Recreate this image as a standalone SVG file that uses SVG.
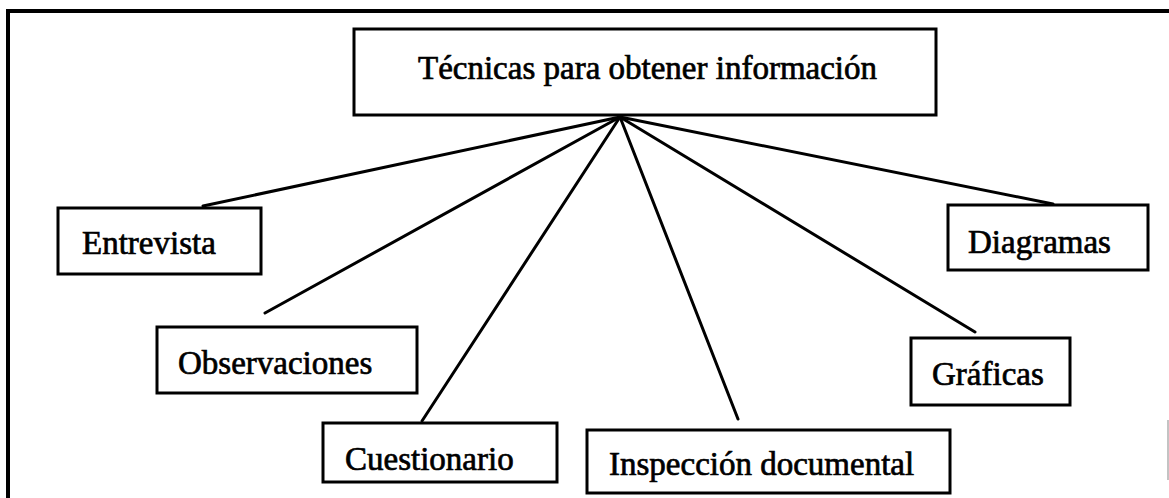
<svg xmlns="http://www.w3.org/2000/svg" width="1169" height="498" viewBox="0 0 1169 498">
<style>
.box{fill:#fff;stroke:#000;stroke-width:3}
.lbl{font-family:"Liberation Serif","DejaVu Serif","Times New Roman",Times,serif;font-size:33px;fill:#000;stroke:#000;stroke-width:0.7}
.con{stroke:#000;stroke-width:3;fill:none;stroke-linecap:round}
</style>
<rect width="1169" height="498" fill="#fff"/>
<g id="frame">
<rect x="6" y="9" width="1163" height="4" fill="#000"/>
<rect x="6" y="9" width="4" height="489" fill="#000"/>
<rect x="1167.5" y="420" width="1" height="60" fill="#888"/>
</g>
<g id="connectors">
<line class="con" x1="620" y1="117" x2="203" y2="206"/>
<line class="con" x1="620" y1="117" x2="265" y2="313"/>
<line class="con" x1="620" y1="117" x2="422" y2="421"/>
<line class="con" x1="620" y1="117" x2="738" y2="419"/>
<line class="con" x1="620" y1="117" x2="975" y2="332"/>
<line class="con" x1="620" y1="117" x2="1053" y2="204"/>
</g>
<g id="root">
<rect class="box" x="354" y="29" width="582" height="86"/>
<text class="lbl" x="418" y="79">Técnicas para obtener información</text>
</g>
<g id="entrevista">
<rect class="box" x="58" y="208" width="203" height="66"/>
<text class="lbl" x="82" y="254">Entrevista</text>
</g>
<g id="observaciones">
<rect class="box" x="157" y="327" width="260" height="66"/>
<text class="lbl" x="178" y="374">Observaciones</text>
</g>
<g id="cuestionario">
<rect class="box" x="323" y="423" width="234" height="59"/>
<text class="lbl" x="345" y="470">Cuestionario</text>
</g>
<g id="inspeccion">
<rect class="box" x="587" y="430" width="363" height="63"/>
<text class="lbl" x="609" y="475">Inspección documental</text>
</g>
<g id="graficas">
<rect class="box" x="911" y="338" width="159" height="67"/>
<text class="lbl" x="932" y="385">Gráficas</text>
</g>
<g id="diagramas">
<rect class="box" x="948" y="205" width="200" height="65"/>
<text class="lbl" x="968" y="253">Diagramas</text>
</g>
</svg>
